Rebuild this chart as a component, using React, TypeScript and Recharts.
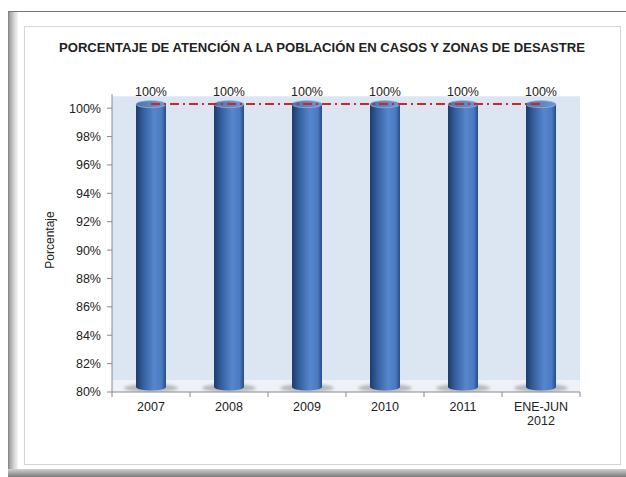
import { Bar, ComposedChart, LabelList, Line, ReferenceArea, XAxis, YAxis } from "recharts";

const years = ["2007", "2008", "2009", "2010", "2011", "ENE-JUN\n2012"];
const atencion = [100, 100, 100, 100, 100, 100];
const meta = [100, 100, 100, 100, 100, 100];
const yTicks = [80, 82, 84, 86, 88, 90, 92, 94, 96, 98, 100];

const data = years.map((year, i) => ({ year, atencion: atencion[i], meta: meta[i] }));

const TICK_FONT = "'Liberation Sans', Arial, sans-serif";
// the back wall of the 3D chart sits a few pixels up from the axis
const DEPTH = 4;

function Cylinder(props: any) {
  const { x, y, width, height } = props;
  if (width == null || height == null) return null;
  const rx = width / 2;
  const ry = 3.5;
  const cx = x + rx;
  const top = y - DEPTH;
  const bottom = y + height - DEPTH - 1;
  return (
    <g>
      <ellipse cx={cx} cy={bottom + 1} rx={rx + 12} ry={4} fill="#8a8a8a" opacity={0.55} filter="url(#blur)" />
      <path
        d={`M${x},${top} L${x},${bottom} A${rx},${ry} 0 0 0 ${x + width},${bottom} L${x + width},${top} Z`}
        fill="url(#cyl)"
      />
      <ellipse cx={cx} cy={top} rx={rx} ry={ry} fill="url(#cylTop)" stroke="#8fb0dc" strokeWidth={0.8} />
    </g>
  );
}

function YearTick(props: any) {
  const { x, y, payload, index } = props;
  const half = 39;
  const lines = String(payload.value).split("\n");
  return (
    <g>
      <line x1={x + half} x2={x + half} y1={y} y2={y + 5} stroke="#888" />
      {index === 0 && <line x1={x - half} x2={x - half} y1={y} y2={y + 5} stroke="#888" />}
      <text x={x} y={y + 19} textAnchor="middle" fontSize={12.5} fill="#222" fontFamily={TICK_FONT}>
        {lines.map((l, i) => (
          <tspan key={i} x={x} dy={i === 0 ? 0 : 14}>
            {l}
          </tspan>
        ))}
      </text>
    </g>
  );
}

export default function App() {
  return (
    <div style={{ position: "absolute", left: 0, top: 0, width: 626, height: 477, background: "#fff", overflow: "hidden" }}>
      {/* outer frame */}
      <div style={{ position: "absolute", left: 8, top: 11, right: 0, bottom: 0, borderTop: "1px solid #777", borderLeft: "1px solid #888" }} />
      <div style={{ position: "absolute", left: 9, top: 12, width: 9, bottom: 0, background: "linear-gradient(to right, #9a9a9a, #d8d8d8 60%, #f4f4f4)" }} />
      <div style={{ position: "absolute", left: 8, right: 0, top: 469, bottom: 0, background: "linear-gradient(to bottom, #d0d0d0, #7a7a7a)" }} />
      {/* inner panel */}
      <div style={{ position: "absolute", left: 24, top: 26, width: 595, height: 437, border: "1px solid #d6d6d6" }} />
      <svg width={626} height={60} style={{ position: "absolute", left: 0, top: 0 }}>
        <text
          x={59}
          y={52}
          textLength={526}
          lengthAdjust="spacingAndGlyphs"
          fontFamily={TICK_FONT}
          fontWeight="bold"
          fontSize={13.5}
          fill="#222"
        >
          PORCENTAJE  DE ATENCIÓN A LA POBLACIÓN EN CASOS Y ZONAS DE DESASTRE
        </text>
      </svg>
      <ComposedChart
        width={626}
        height={477}
        data={data}
        margin={{ top: 94, right: 46, bottom: 45, left: 0 }}
        style={{ position: "absolute", left: 0, top: 0 }}
      >
        <defs>
          <linearGradient id="cyl" x1="0" y1="0" x2="1" y2="0">
            <stop offset="0%" stopColor="#1d3b6e" />
            <stop offset="25%" stopColor="#35609f" />
            <stop offset="60%" stopColor="#5686cc" />
            <stop offset="85%" stopColor="#4a7bc2" />
            <stop offset="100%" stopColor="#284d88" />
          </linearGradient>
          <linearGradient id="cylTop" x1="0" y1="0" x2="1" y2="0">
            <stop offset="0%" stopColor="#4c74b0" />
            <stop offset="100%" stopColor="#6f97d2" />
          </linearGradient>
          <filter id="blur" x="-50%" y="-100%" width="200%" height="300%">
            <feGaussianBlur stdDeviation="1.5" />
          </filter>
        </defs>
        <XAxis
          dataKey="year"
          xAxisId="main"
          tick={<YearTick />}
          tickLine={false}
          tickSize={0}
          tickMargin={0}
          height={40}
          interval={0}
          stroke="#888"
        />
        <YAxis
          yAxisId="main"
          domain={[80, 101]}
          allowDataOverflow
          ticks={yTicks}
          width={112}
          tickSize={5}
          tickMargin={6}
          stroke="#888"
          tick={{ fill: "#222", fontSize: 12.5, fontFamily: TICK_FONT }}
          tickFormatter={(v: number) => `${v}%`}
          label={{
            content: () => (
              <text x={54} y={240} transform="rotate(-90 54 240)" textAnchor="middle" fontSize={12} fill="#222" fontFamily={TICK_FONT}>
                Porcentaje
              </text>
            ),
          }}
        />
        <YAxis yAxisId="depth" orientation="right" width={0} domain={[79.7, 100.7]} allowDataOverflow hide />
        <ReferenceArea xAxisId="main" yAxisId="main" y1={80.85} y2={100.85} fill="#dce6f2" fillOpacity={1} stroke="none" ifOverflow="visible" />
        <ReferenceArea xAxisId="main" yAxisId="main" y1={80} y2={80.85} fill="#eef2f8" fillOpacity={1} stroke="none" ifOverflow="visible" />
        <Bar xAxisId="main" yAxisId="main" dataKey="atencion" barSize={30} shape={<Cylinder />} isAnimationActive={false}>
          <LabelList
            dataKey="atencion"
            position="top"
            offset={12}
            formatter={(v: any) => `${v}%`}
            style={{ fill: "#222", fontSize: 12.5, fontFamily: TICK_FONT }}
          />
        </Bar>
        <Line
          xAxisId="main"
          yAxisId="depth"
          dataKey="meta"
          stroke="#d0262a"
          strokeWidth={2}
          strokeDasharray="9 4 2 4"
          dot={false}
          activeDot={false}
          isAnimationActive={false}
        />
      </ComposedChart>
    </div>
  );
}
